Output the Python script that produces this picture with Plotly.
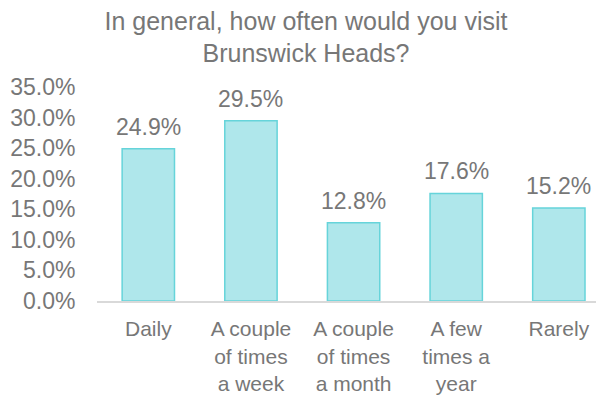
import plotly.graph_objects as go

categories = ["Daily", "A couple<br>of times<br>a week", "A couple<br>of times<br>a month", "A few<br>times a<br>year", "Rarely"]
values = [24.9, 29.5, 12.8, 17.6, 15.2]
labels = ["24.9%", "29.5%", "12.8%", "17.6%", "15.2%"]
y_ticks = [0, 5, 10, 15, 20, 25, 30, 35]
y_tick_labels = ["0.0%", "5.0%", "10.0%", "15.0%", "20.0%", "25.0%", "30.0%", "35.0%"]

FONT = "Liberation Sans, Arial, sans-serif"
GRAY = "#777777"

fig = go.Figure()
fig.add_trace(go.Bar(
    x=list(range(len(categories))),
    y=values,
    width=0.51,
    marker=dict(color="#afe7eb", line=dict(color="#66d4da", width=1.5)),
    hoverinfo="skip",
))

for i, (v, t) in enumerate(zip(values, labels)):
    fig.add_annotation(x=i, y=v, text=t, showarrow=False, yanchor="bottom",
                       yshift=7, font=dict(family=FONT, size=23, color=GRAY))

# page has an 8px body margin: figure is sized/offset to compensate
fig.update_layout(
    width=596, height=392,
    margin=dict(l=89, r=0, t=79, b=99),
    paper_bgcolor="white", plot_bgcolor="white",
    showlegend=False,
    title=dict(text="In general, how often would you visit<br>Brunswick Heads?",
               x=0.5, xref="container", xanchor="center",
               y=0.945, yref="container", yanchor="top",
               font=dict(family=FONT, size=25, color=GRAY)),
    font=dict(family=FONT, size=22, color=GRAY),
)
fig.update_xaxes(
    tickmode="array", tickvals=list(range(len(categories))), ticktext=categories,
    range=[-0.5, 4.44], showgrid=False, zeroline=False,
    showline=True, linecolor="#d9d9d9", linewidth=2,
    ticks="outside", ticklen=8, tickcolor="rgba(0,0,0,0)",
    tickfont=dict(family=FONT, size=21, color=GRAY),
)
fig.update_yaxes(
    tickmode="array", tickvals=y_ticks, ticktext=y_tick_labels,
    range=[0, 35], showgrid=False, zeroline=False, showline=False,
    ticks="outside", ticklen=16, tickcolor="rgba(0,0,0,0)",
    tickfont=dict(family=FONT, size=23, color=GRAY),
)

fig.write_html("out.html")
